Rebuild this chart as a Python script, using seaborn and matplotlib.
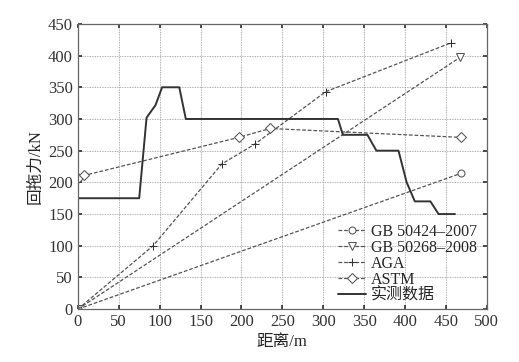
import numpy as np
import pandas as pd
import matplotlib
matplotlib.use('Agg')
import matplotlib.pyplot as plt
import seaborn as sns

# series
gb50424_x = [0, 468]
gb50424_y = [0, 214]

gb50268_x = [0, 467]
gb50268_y = [0, 397]

aga_x = [0, 92, 176, 216, 303, 456]
aga_y = [0, 100, 229, 260, 343, 420]

astm_x = [0, 8, 197, 235, 468]
astm_y = [207, 211, 271, 285, 271]

meas_x = [0, 75, 84, 95, 103, 124, 132, 318, 324, 354, 365, 392, 402, 412, 431, 441, 461]
meas_y = [175, 175, 302, 322, 350, 350, 300, 300, 275, 275, 250, 250, 200, 170, 170, 150, 150]

sns.set_theme(style='ticks')
plt.rcParams['font.family'] = ['Liberation Serif', 'Noto Sans CJK SC']

fig = plt.figure(figsize=(5.19, 3.62), dpi=100)
ax = fig.add_axes([0.150, 0.146, 0.788, 0.788])

grey = '#555555'
dash = (0, (3, 1.5))
sns.lineplot(x=gb50424_x, y=gb50424_y, ax=ax, sort=False, color=grey, lw=0.9, linestyle=dash,
             marker='o', markersize=5, markerfacecolor='white', markeredgecolor=grey,
             label='GB 50424\u20132007')
sns.lineplot(x=gb50268_x, y=gb50268_y, ax=ax, sort=False, color=grey, lw=0.9, linestyle=dash,
             marker='v', markersize=6, markerfacecolor='white', markeredgecolor=grey,
             label='GB 50268\u20132008')
sns.lineplot(x=aga_x, y=aga_y, ax=ax, sort=False, color=grey, lw=0.9, linestyle=dash,
             marker='+', markersize=6, markeredgecolor='#333333',
             label='AGA')
sns.lineplot(x=astm_x, y=astm_y, ax=ax, sort=False, color=grey, lw=0.9, linestyle=dash,
             marker='D', markersize=5, markerfacecolor='white', markeredgecolor=grey,
             label='ASTM')
sns.lineplot(x=meas_x, y=meas_y, ax=ax, sort=False, color='#333333', lw=1.4,
             label='实测数据')

ax.set_xlim(0, 500)
ax.set_ylim(0, 450)
ax.set_xticks(np.arange(0, 501, 50))
ax.set_yticks(np.arange(0, 451, 50))
ax.grid(True, linestyle=(0, (1, 1)), color='#999999', lw=0.6)
ax.tick_params(direction='in', top=True, right=True, labelsize=12, length=3, colors='#333333')
for s in ax.spines.values():
    s.set_color('#666666')
    s.set_linewidth(0.9)

ax.set_xlabel('距离/m', fontsize=12, labelpad=3)
ax.set_ylabel('回拖力/kN', fontsize=12, labelpad=3)

leg = ax.legend(loc='lower right', bbox_to_anchor=(1.0, -0.015), frameon=False, fontsize=11.5,
                handlelength=1.8, handletextpad=0.3, labelspacing=0.0, borderaxespad=0.2)

fig.savefig('out.png', dpi=100)
